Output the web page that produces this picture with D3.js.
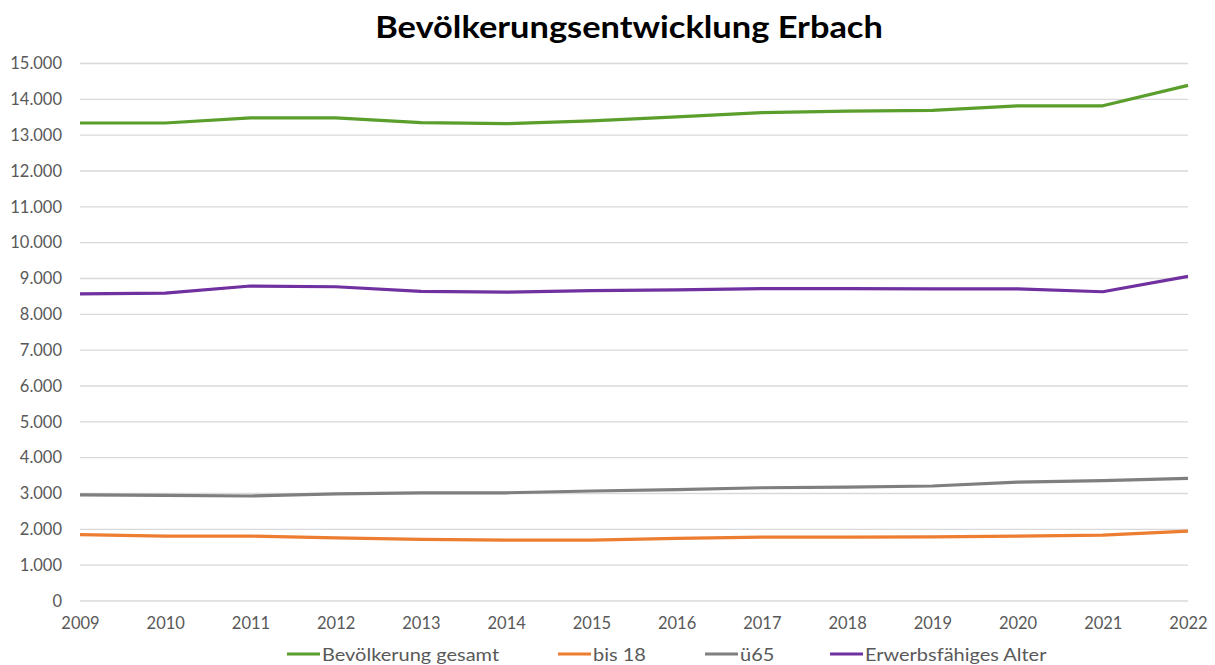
<!DOCTYPE html>
<html>
<head>
<meta charset="utf-8">
<script src="https://cdn.jsdelivr.net/npm/d3@7"></script>
<style>
  body { margin: 0; background: #fff; }
  svg { display: block; font-family: Lato, "Open Sans", sans-serif; }
</style>
</head>
<body>
<svg width="1215" height="665"></svg>
<script>
// data
var years = [2009, 2010, 2011, 2012, 2013, 2014, 2015, 2016, 2017, 2018, 2019, 2020, 2021, 2022];
var gesamt = [13340, 13340, 13480, 13480, 13350, 13320, 13400, 13510, 13630, 13670, 13690, 13820, 13820, 14390];
var bis18 = [1850, 1810, 1810, 1760, 1720, 1700, 1700, 1750, 1780, 1780, 1790, 1810, 1840, 1950];
var ue65 = [2960, 2950, 2930, 2990, 3020, 3020, 3070, 3110, 3160, 3180, 3210, 3320, 3360, 3420];
var erwerb = [8570, 8590, 8790, 8770, 8640, 8620, 8660, 8680, 8720, 8720, 8710, 8710, 8630, 9060];
var yTicks = d3.range(0, 15001, 1000);

var seriesNames = ["Bevölkerung gesamt", "bis 18", "ü65", "Erwerbsfähiges Alter"];
var seriesColors = ["#5a9e2c", "#ed7d31", "#7f7f7f", "#7030a0"];
var seriesValues = [gesamt, bis18, ue65, erwerb];

var svg = d3.select("svg");
// note: "top" clashes with window.top, so use other names
var plotLeft = 80, plotRight = 1188, plotTop = 63.5, plotBottom = 601;

var x = d3.scalePoint().domain(years).range([plotLeft, plotRight]);
var y = d3.scaleLinear().domain([0, 15000]).range([plotBottom, plotTop]);
var fmt = d3.formatLocale({decimal: ",", thousands: ".", grouping: [3], currency: ["", "€"]}).format(",d");

// title (Calibri in the original is a little wider than Lato, so stretch a bit)
svg.append("g").attr("transform", "translate(629,38) scale(1.11,1)")
  .append("text")
    .attr("text-anchor", "middle")
    .style("font-size", "31px").style("font-weight", "bold").style("fill", "#000")
    .text("Bevölkerungsentwicklung Erbach");

// gridlines
svg.append("g").selectAll("line").data(yTicks).join("line")
    .attr("x1", plotLeft).attr("x2", plotRight)
    .attr("y1", d => y(d)).attr("y2", d => y(d))
    .attr("stroke", "#d9d9d9").attr("stroke-width", 1.3);

// y axis labels
var yAxis = svg.append("g").attr("transform", "translate(" + (plotLeft - 18) + ",0)")
    .call(d3.axisLeft(y).tickValues(yTicks).tickFormat(fmt).tickSize(0).tickPadding(0));
yAxis.select(".domain").remove();
yAxis.selectAll("text").style("font-size", "16.5px").style("fill", "#595959")
    .style("font-family", "Lato, 'Open Sans', sans-serif");

// x axis labels
var xAxis = svg.append("g").attr("transform", "translate(0," + (plotBottom + 13) + ")")
    .call(d3.axisBottom(x).tickFormat(d => d).tickSize(0).tickPadding(3));
xAxis.select(".domain").remove();
xAxis.selectAll("text").style("font-size", "16.5px").style("fill", "#595959")
    .style("font-family", "Lato, 'Open Sans', sans-serif");

// lines
var line = d3.line().x((d, i) => x(years[i])).y(d => y(d));
seriesValues.forEach(function(vals, k) {
  svg.append("path").datum(vals)
      .attr("d", line)
      .attr("fill", "none")
      .attr("stroke", seriesColors[k])
      .attr("stroke-width", 3.2)
      .attr("stroke-linejoin", "round");
});

// legend
var legendX = [287, 558, 705, 830];
var lg = svg.append("g").selectAll("g").data(seriesNames).join("g")
    .attr("transform", (d, i) => "translate(" + legendX[i] + ",654)");
lg.append("line").attr("x1", 0).attr("x2", 33).attr("y1", 0).attr("y2", 0)
    .attr("stroke", (d, i) => seriesColors[i]).attr("stroke-width", 3.2);
lg.append("text").attr("transform", "translate(35,7) scale(1.11,1)")
    .style("font-size", "18px").style("fill", "#595959")
    .text(d => d);
</script>
</body>
</html>
